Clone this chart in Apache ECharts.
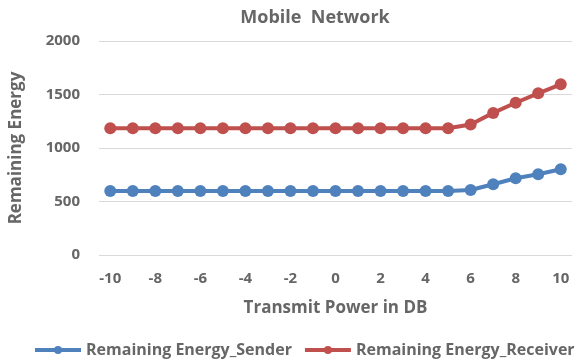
<!DOCTYPE html>
<html><head><meta charset="utf-8">
<script src="https://cdn.jsdelivr.net/npm/echarts@6/dist/echarts.min.js"></script>
<style>html,body{margin:0;padding:0;background:#fff}#c{width:577px;height:361px}</style>
</head><body><div id="c"></div>
<script>
const categories = [-10,-9,-8,-7,-6,-5,-4,-3,-2,-1,0,1,2,3,4,5,6,7,8,9,10];
const sender = [598,598,598,598,598,598,598,598,598,598,598,598,598,598,598,598,607,661,717,754,801];
const receiver = [1185,1185,1185,1185,1185,1185,1185,1185,1185,1185,1185,1185,1185,1185,1185,1185,1220,1328,1423,1511,1595];
const yTicks = [0,500,1000,1500,2000];
const FONT = '"Open Sans", sans-serif';
const GRAY = '#666666';
const chart = echarts.init(document.getElementById('c'));
chart.setOption({
  animation: false,
  title: {text: 'Mobile  Network', left: 310, top: 4, textAlign: 'center',
    textStyle: {fontFamily: FONT, fontSize: 18, fontWeight: 'bold', color: GRAY}},
  grid: {left: 99, right: 5, top: 41, bottom: 106},
  legend: {bottom: 3, left: 33, width: 600, padding: 0, itemWidth: 46, itemHeight: 10, itemGap: 11,
    lineStyle: {width: 4},
    textStyle: {fontFamily: FONT, fontSize: 16, fontWeight: 'bold', color: GRAY},
    data: ['Remaining Energy_Sender','Remaining Energy_Receiver']},
  xAxis: {type: 'category', data: categories, boundaryGap: true,
    name: 'Transmit Power in DB', nameLocation: 'middle', nameGap: 45,
    nameTextStyle: {fontFamily: FONT, fontSize: 17, fontWeight: 'bold', color: GRAY},
    axisLine: {show: false}, axisTick: {show: false},
    axisLabel: {interval: 1, fontFamily: FONT, fontSize: 15, fontWeight: 'bold', color: GRAY, margin: 16}},
  yAxis: {type: 'value', min: yTicks[0], max: yTicks[yTicks.length-1], interval: 500,
    name: 'Remaining Energy', nameLocation: 'middle', nameGap: 74,
    nameTextStyle: {fontFamily: FONT, fontSize: 17, fontWeight: 'bold', color: GRAY},
    axisLine: {show: false}, axisTick: {show: false},
    splitLine: {lineStyle: {color: '#d9d9d9', width: 1}},
    axisLabel: {formatter: v => String(v), fontFamily: FONT, fontSize: 15, fontWeight: 'bold', color: GRAY, margin: 19}},
  series: [
    {name: 'Remaining Energy_Sender', type: 'line', data: sender, symbol: 'circle', symbolSize: 12,
     lineStyle: {width: 4, color: '#4F81BD'}, itemStyle: {color: '#4F81BD'}},
    {name: 'Remaining Energy_Receiver', type: 'line', data: receiver, symbol: 'circle', symbolSize: 12,
     lineStyle: {width: 4, color: '#C0504D'}, itemStyle: {color: '#C0504D'}}
  ]
});
</script></body></html>
